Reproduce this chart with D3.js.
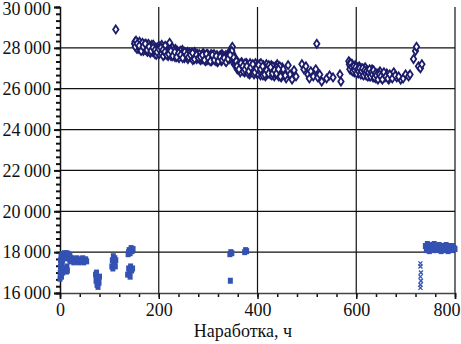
<!DOCTYPE html>
<html lang="ru">
<head>
<meta charset="utf-8">
<script src="https://d3js.org/d3.v7.min.js"></script>
<style>
  body { margin: 0; background: #fff; }
</style>
</head>
<body>
<div id="chart"></div>
<script>
// upper series (open diamonds): [hours, value]
const upperBand1 = [
  [152,28300],[153,28150],[155,28050],[157,28250],[159,28100],[160,27950],[162,28200],[164,28050],
  [166,28150],[168,27900],[170,28100],[172,28000],[174,28200],[176,27950],[178,28050],[180,27850],
  [182,28100],[184,27980],[186,28150],[188,27800],[190,28050],[192,27700],[194,27900],[196,28000],
  [198,27750],[200,28100],[202,27950],[204,27850],[206,28150],[208,27800],[210,28000],[212,27650],
  [214,27900],[216,28050],[218,27750],[220,27950],[222,28250],[224,27700],[226,27900],[228,28000],
  [230,27800],[232,27650],[234,27950],[236,27750],[238,27850],[240,27600],[242,27800],[245,27700],
  [248,27900],[250,27650],[253,27750],[256,27550],[258,27800],[260,27700],[263,27600],[266,27750],
  [268,27500],[270,27650],[273,27800],[276,27550],[278,27700],[280,27600],[283,27450],[286,27650],
  [288,27550],[290,27750],[293,27500],[296,27600],[298,27400],[300,27650],[303,27500],[306,27700],
  [308,27450],[310,27600],[313,27550],[316,27350],[318,27650],[320,27500],[323,27600],[326,27400],
  [328,27700],[330,27550],[333,27450],[336,27650],[338,27500],[340,27600],[343,27800],[345,27550],
  [347,27900],[349,28050],[350,27700],[352,27400],[354,27300],[356,27450],
  [151,28200],[154,28350],[156,27950],[158,28150],[161,28300],[163,27900],[165,28000],[167,28250],
  [169,27850],[171,28150],[173,27900],[175,28100],[177,27800],[179,28200],[181,27950],[183,27750],
  [185,28050],[187,27900],[189,28150],[191,27850],[193,28000],[195,27650],[197,27900],[199,27800],
  [201,27700],[203,28050],[205,27750],[207,27950],[209,27600],[211,27850],[213,28100],[215,27700],
  [217,27850],[219,27600],[221,27800],[223,27900],[225,27600],[227,27800],[229,27700],[231,27900],
  [233,27550],[235,27800],[237,27650],[239,27750],[241,27500],[244,27850],[247,27600],[249,27750],
  [252,27500],[255,27700],[257,27650],[259,27450],[262,27750],[265,27550],[267,27700],[269,27400],
  [272,27600],[275,27700],[277,27450],[279,27600],[282,27700],[285,27400],[287,27600],[289,27450],
  [292,27650],[295,27350],[297,27550],[299,27700],[302,27400],[305,27600],[307,27350],[309,27550],
  [312,27700],[315,27450],[317,27550],[319,27300],[322,27450],[325,27650],[327,27350],[329,27500],
  [332,27600],[335,27350],[337,27550],[339,27400],[342,27650],[344,27450],[346,27700],[348,27850],
  [351,27550],[353,27200],[355,27150],
  [152.5,28050],[156.5,28200],[160.5,28100],[164.5,27850],[168.5,28050],[172.5,28200],[176.5,27900],
  [180.5,28050],[184.5,27850],[188.5,28000],[192.5,27900],[196.5,27800],[200.5,27950],[204.5,28000],
  [208.5,27900],[212.5,27800],[216.5,27650],[220.5,27700],[224.5,27850],[228.5,27600],[232.5,27800],
  [236.5,27550],[240.5,27750],[244.5,27650],[248.5,27500],[252.5,27800],[256.5,27650],[260.5,27550],
  [264.5,27650],[268.5,27750],[272.5,27450],[276.5,27650],[280.5,27500],[284.5,27550],[288.5,27650],
  [292.5,27400],[296.5,27700],[300.5,27500],[304.5,27350],[308.5,27650],[312.5,27400],[316.5,27600],
  [320.5,27350],[324.5,27550],[328.5,27400],[332.5,27500],[336.5,27300],[340.5,27450],[344.5,27650]
];
const upperBand2 = [
  [358,27200],[360,27050],[362,27250],[364,26900],[366,27100],[368,27300],[370,26950],[372,27150],
  [374,26800],[376,27050],[378,27250],[380,26900],[382,27100],[384,26700],[386,27200],[388,27000],
  [390,26850],[392,27150],[394,26950],[396,27250],[398,26750],[400,27100],[402,26900],[404,27200],
  [406,26650],[408,27050],[410,26850],[412,27150],[414,26950],[416,26600],[418,27200],[420,26800],
  [422,27050],[424,26950],[426,26700],[428,27150],[430,26850],[432,27000],[434,26600],[436,27100],
  [438,26900],[440,27200],[442,26750],[444,27000],[446,26850],[448,26550],[450,27050],[454,26800],
  [458,26500],[462,27150],[466,26700],[470,26450],[474,26900],[478,26600],
  [357,27350],[359,26950],[361,27150],[363,27050],[365,26800],[367,27000],[369,27200],[371,26850],
  [373,27050],[375,27250],[377,26900],[379,27050],[381,26750],[383,27000],[385,27250],[387,26800],
  [389,27100],[391,26950],[393,26700],[395,27050],[397,26900],[399,27150],[401,26750],[403,27000],
  [405,26850],[407,27250],[409,26950],[411,26650],[413,27050],[415,26800],[417,27000],[419,26700],
  [421,26900],[423,27150],[425,26850],[427,26950],[429,26650],[431,27100],[433,26800],[435,26950],
  [437,26700],[439,27050],[441,26850],[443,26600],[445,27100],[447,26700],[452,26950],[456,26650],
  [358.5,27100],[362.5,26950],[366.5,27250],[370.5,27100],[374.5,26950],[378.5,27100],[382.5,26850],
  [386.5,27050],[390.5,27200],[394.5,26800],[398.5,27000],[402.5,27150],[406.5,26950],[410.5,27100],
  [414.5,26700],[418.5,26900],[422.5,26750],[426.5,27050],[430.5,26750],[434.5,26900],[438.5,26750],
  [442.5,26950],[446.5,26600],
  [490,27200],[494,26950],[498,27100],[502,26700],[505,26500],[508,26850],[513,26600],[518,26950],
  [522,26550],[526,26700],[530,26350],[540,26500],[546,26650],[553,26550],[567,26700],[569,26350]
];
const upperBand3 = [
  [585,27350],[588,27100],[590,26900],[592,27200],[594,27000],[596,26800],[598,27150],[600,26950],
  [602,27050],[604,26750],[606,27100],[608,26850],[610,27000],[612,26700],[614,26950],[616,26800],
  [618,27050],[620,26650],[622,26900],[624,26750],[626,26600],[628,26850],[630,26700],[632,26950],
  [634,26550],[636,26800],[638,26650],[640,26500],[642,26750],[645,26600],[648,26850],[651,26500],
  [654,26700],[658,26550],[662,26750],[666,26450],[670,26600],[676,26800],[682,26550],[690,26450],
  [586,27200],[587,26950],[589,27250],[591,27050],[593,26850],[595,27100],[597,26900],[599,27050],
  [601,26750],[603,26950],[605,26850],[607,27000],[609,26700],[611,26850],[613,27000],[615,26650],
  [617,26900],[619,26750],[621,26850],[623,26600],[625,26800],[627,26950],[629,26600],[631,26800],
  [633,26700],[635,26900],[637,26550],[639,26750],[641,26650],[644,26450],[647,26700],[650,26600],
  [653,26450],[656,26800],[660,26600],[664,26500],[668,26700],[673,26500],[679,26650],[686,26600],
  [695,26500],[700,26700],
  [706,26600],[709,26700],
  [716,27450],[720,27850],[722,28050],[726,27100],[730,27000],[733,27200]
];
const upperSingles = [[113,28900],[520,28200]];

// lower series (filled marks): [hours, value]
const lowerStart = [
  [0,16700],[0.5,17000],[1,17300],[1,17600],[1.5,16900],[2,17800],[2,17200],[2.5,17500],[3,16800],
  [3,17700],[3.5,17100],[4,17400],[4,17900],[5,17600],[5.5,17000],[6,17800],
  [7,17900],[8,17750],[9,17950],[10,17800],[11,17900],[12,17700],[13,17850],[14,17950],[15,17800],
  [16,17700],[17,17900],[18,17750],[20,17850],[22,17700],
  [12,17200],[13,17050],[14,17300],[15,17100],
  [20,17600],[22,17550],[24,17700],[26,17600],[28,17500],[30,17650],[32,17550],[34,17700],[36,17600],
  [38,17500],[40,17650],[42,17550],[44,17600],[46,17700],[48,17500],[50,17600],[52,17650],[54,17550]
];
const lowerMid = [
  [72,16900],[73,16600],[74,16800],[75,16400],[76,16700],[77,16300],[78,16600],[79,16500],[80,16800],[74,17000],
  [105,17300],[106,17600],[107,17200],[108,17800],[109,17500],[110,17400],[111,17700],[112,17300],[113,17600],
  [138,17900],[140,18100],[142,17950],[144,18200],[146,18050],[148,18150],[139,18000],
  [137,16900],[139,17200],[141,17000],[143,17300],[145,17100],[147,17200],[142,16800],
  [344,17900],[346,18000],[348,17950],[345,16600],
  [374,18000],[376,18100],[378,18050]
];
const lowerEnd = [
  [740,18300],[742,18100],[744,18400],[746,18200],[748,18050],[750,18350],[752,18150],[754,18300],
  [756,18100],[758,18400],[760,18250],[762,18100],[764,18300],[766,18150],[768,18350],[770,18200],
  [772,18050],[774,18300],[776,18150],[778,18250],[780,18100],[782,18350],[784,18200],[786,18050],
  [788,18300],[790,18150],[792,18250],[794,18100],[796,18300],[798,18200],[800,18150]
];
const crossPts = [[730,17450],[730,17300],[731,17000],[730,16800],[731,16600],[730,16400],[730,16250]];

const xTicks = [0, 200, 400, 600, 800];
const yTicks = [16000, 18000, 20000, 22000, 24000, 26000, 28000, 30000];
const xTitle = "Наработка, ч";

const W = 461, H = 344;
const mLeft = 60, mRight = 455, mTop = 7, mBottom = 293;
const navy = "#1c1c6b", blue = "#3352b3";
const serif = "'Liberation Serif', serif";

const svg = d3.select("#chart").append("svg").attr("width", W).attr("height", H);

const x = d3.scaleLinear().domain([0, 800]).range([mLeft, mRight]);
const y = d3.scaleLinear().domain([16000, 30000]).range([mBottom, mTop]);

const fmt = v => d3.format(",")(v).replace(",", "\u2009");

// grid
svg.append("g").selectAll("line").data(yTicks.filter(v => v > 16000 && v < 30000)).join("line")
  .attr("x1", mLeft).attr("x2", mRight).attr("y1", d => y(d)).attr("y2", d => y(d))
  .attr("stroke", "#111").attr("stroke-width", 1.2);
svg.append("g").selectAll("line").data(xTicks.filter(v => v > 0)).join("line")
  .attr("x1", d => x(d)).attr("x2", d => x(d)).attr("y1", mTop).attr("y2", mBottom)
  .attr("stroke", "#111").attr("stroke-width", 1.2);

// minor ticks
const xMinor = d3.range(0, 801, 40);
svg.append("g").attr("transform", `translate(0,${mBottom})`)
  .call(d3.axisBottom(x).tickValues(xMinor).tickSize(4).tickFormat(""))
  .call(g => g.select(".domain").remove())
  .selectAll("line").attr("stroke", "#111").attr("stroke-width", 1.5);
const yMinor = d3.range(16000, 30001, 2000 / 6);
svg.append("g").attr("transform", `translate(${mLeft},0)`)
  .call(d3.axisLeft(y).tickValues(yMinor).tickSize(4).tickFormat(""))
  .call(g => g.select(".domain").remove())
  .selectAll("line").attr("stroke", "#111").attr("stroke-width", 2);

// major axes
const xAxis = svg.append("g").attr("transform", `translate(0,${mBottom})`)
  .call(d3.axisBottom(x).tickValues(xTicks).tickSize(6).tickPadding(4).tickFormat(d3.format("d")));
xAxis.select(".domain").attr("stroke", "#444").attr("stroke-width", 1.5);
xAxis.selectAll("line").attr("stroke", "#111").attr("stroke-width", 1.5);
xAxis.selectAll("text").attr("font-size", 18).attr("font-family", serif).attr("fill", "#111")
  .filter(d => d === 800).attr("text-anchor", "end").attr("dx", 5);

const yAxis = svg.append("g").attr("transform", `translate(${mLeft},0)`)
  .call(d3.axisLeft(y).tickValues(yTicks).tickSize(6).tickPadding(3).tickFormat(fmt));
yAxis.select(".domain").attr("stroke", "#111").attr("stroke-width", 1.5);
yAxis.selectAll("line").attr("stroke", "#111").attr("stroke-width", 2);
yAxis.selectAll("text").attr("font-size", 18).attr("font-family", serif).attr("fill", "#111")
  .filter(d => d === 30000).attr("dy", "0.42em");

svg.append("text").attr("x", 243).attr("y", 337).attr("text-anchor", "middle")
  .attr("font-size", 18).attr("font-family", serif).attr("fill", "#111").text(xTitle);

// lower series
const lowerAll = lowerStart.concat(lowerMid, lowerEnd);
svg.append("g").selectAll("rect").data(lowerAll).join("rect")
  .attr("x", d => x(d[0]) - 2.5).attr("y", d => y(d[1]) - 3)
  .attr("width", 5).attr("height", 6).attr("fill", blue);

svg.append("g").selectAll("path").data(crossPts).join("path")
  .attr("d", d => {
    const cx = x(d[0]), cy = y(d[1]);
    return `M${cx - 2},${cy - 2}L${cx + 2},${cy + 2}M${cx - 2},${cy + 2}L${cx + 2},${cy - 2}`;
  })
  .attr("stroke", blue).attr("stroke-width", 1.3);

// upper series
const upperAll = upperBand1.concat(upperBand2, upperBand3, upperSingles);
svg.append("g").selectAll("path").data(upperAll).join("path")
  .attr("d", d => {
    const cx = x(d[0]), cy = y(d[1]);
    return `M${cx},${cy - 4}L${cx + 2.7},${cy}L${cx},${cy + 4}L${cx - 2.7},${cy}Z`;
  })
  .attr("fill", "#fff").attr("stroke", navy).attr("stroke-width", 1.8);
</script>
</body>
</html>
